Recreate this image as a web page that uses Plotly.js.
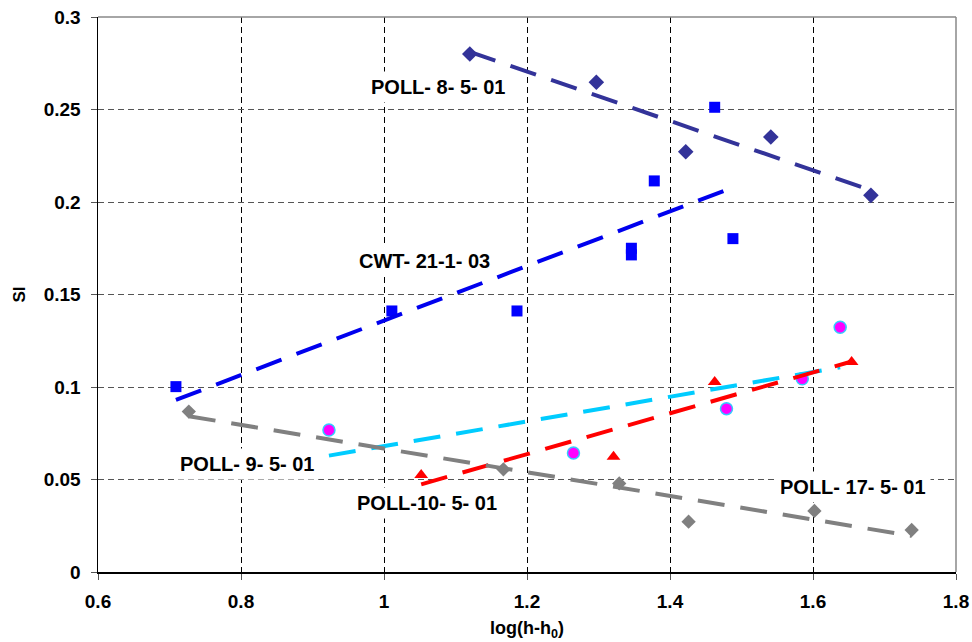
<!DOCTYPE html>
<html>
<head>
<meta charset="utf-8">
<script src="https://cdn.plot.ly/plotly-3.0.1.min.js"></script>
<style>
html,body{margin:0;padding:0;background:#fff;}
#chart{width:972px;height:642px;}
</style>
</head>
<body>
<div id="chart"></div>
<script>
// ---- data ----
const poll8X = [1.120, 1.297, 1.422, 1.541, 1.681];
const poll8Y = [0.2800, 0.2647, 0.2272, 0.2351, 0.2036];
const poll8TrendX = [1.120, 1.681];
const poll8TrendY = [0.2812, 0.2063];

const cwtX = [0.709, 1.011, 1.186, 1.346, 1.346, 1.378, 1.4625, 1.488];
const cwtY = [0.1002, 0.1411, 0.1411, 0.1750, 0.1714, 0.2114, 0.2512, 0.1802];
const cwtTrendX = [0.709, 1.488];
const cwtTrendY = [0.0930, 0.2079];

const poll9X = [0.923, 1.265, 1.479, 1.585, 1.638];
const poll9Y = [0.0768, 0.0643, 0.0883, 0.1045, 0.1323];
const poll9TrendX = [0.923, 1.638];
const poll9TrendY = [0.0629, 0.1106];

const poll10X = [1.052, 1.321, 1.4625, 1.654];
const poll10Y = [0.0524, 0.0623, 0.1027, 0.1135];
const poll10TrendX = [1.052, 1.654];
const poll10TrendY = [0.0474, 0.1138];

const poll17X = [0.727, 1.167, 1.329, 1.426, 1.602, 1.738];
const poll17Y = [0.0867, 0.0555, 0.0479, 0.0272, 0.0330, 0.0227];
const poll17TrendX = [0.727, 1.738];
const poll17TrendY = [0.0842, 0.0195];

const labelText = ['POLL- 8- 5- 01', 'CWT- 21-1- 03', 'POLL- 9- 5- 01', 'POLL-10- 5- 01', 'POLL- 17- 5- 01'];
const labelX = [1.0755, 1.056, 0.808, 1.060, 1.656];
const labelY = [0.2622, 0.1681, 0.0584, 0.0373, 0.0459];

const xTicks = [0.6, 0.8, 1, 1.2, 1.4, 1.6, 1.8];
const xTickText = ['0.6', '0.8', '1', '1.2', '1.4', '1.6', '1.8'];
const yTicks = [0, 0.05, 0.1, 0.15, 0.2, 0.25, 0.3];
const yTickText = ['0', '0.05', '0.1', '0.15', '0.2', '0.25', '0.3'];

const FONT = 'Liberation Sans, Arial, sans-serif';
const TDASH = '27px,16px';

function pts(x, y, marker) {
  return {x: x, y: y, type: 'scatter', mode: 'markers', marker: marker, hoverinfo: 'x+y', cliponaxis: false};
}
function trend(x, y, color) {
  return {x: x, y: y, type: 'scatter', mode: 'lines', line: {color: color, width: 4, dash: TDASH}, hoverinfo: 'skip'};
}

const traces = [
  pts(poll8X, poll8Y, {symbol: 'diamond', size: 12, color: '#333399'}),
  pts(cwtX, cwtY, {symbol: 'square', size: 11, color: '#0000FF'}),
  pts(poll9X, poll9Y, {symbol: 'circle', size: 12, color: '#FF00FF', line: {color: '#33CCFF', width: 1.5}}),
  pts(poll10X, poll10Y, {symbol: 'triangle-up', size: 12, color: '#FF0000'}),
  pts(poll17X, poll17Y, {symbol: 'diamond', size: 11, color: '#808080'}),
  trend(poll8TrendX, poll8TrendY, '#333399'),
  trend(cwtTrendX, cwtTrendY, '#0000EE'),
  trend(poll9TrendX, poll9TrendY, '#00CCFF'),
  trend(poll10TrendX, poll10TrendY, '#FF0000'),
  trend(poll17TrendX, poll17TrendY, '#808080')
];

const annotations = labelText.map((t, i) => ({
  x: labelX[i], y: labelY[i], xref: 'x', yref: 'y', text: t, showarrow: false,
  font: {family: FONT, size: 20, color: '#000', weight: 'bold'},
  bgcolor: '#ffffff', borderpad: 4, xanchor: 'center', yanchor: 'middle'
}));

const layout = {
  width: 972, height: 642,
  margin: {l: 98, r: 16, t: 17, b: 70},
  paper_bgcolor: '#fff', plot_bgcolor: '#fff',
  showlegend: false,
  font: {family: FONT, size: 19, color: '#000'},
  xaxis: {
    range: [0.6, 1.8], tickvals: xTicks, ticktext: xTickText,
    showgrid: true, gridcolor: '#000', gridwidth: 1, griddash: '6px,4px',
    showline: true, linecolor: '#000', linewidth: 1.5,
    ticks: 'outside', ticklen: 6, tickcolor: '#555', ticklabelstandoff: 6,
    zeroline: false,
    tickfont: {family: FONT, size: 19, weight: 'bold'},
    title: {text: 'log(h-h<sub>0</sub>)', font: {family: FONT, size: 18, weight: 'bold'}, standoff: 10}
  },
  yaxis: {
    range: [0, 0.3], tickvals: yTicks, ticktext: yTickText,
    showgrid: true, gridcolor: '#555', gridwidth: 1, griddash: '6px,4px',
    showline: true, linecolor: '#000', linewidth: 1.5,
    ticks: 'outside', ticklen: 6, tickcolor: '#555', ticklabelstandoff: 6,
    zeroline: false,
    tickfont: {family: FONT, size: 19, weight: 'bold'},
    title: {text: 'SI', font: {family: FONT, size: 17, weight: 'bold'}, standoff: 14}
  },
  shapes: [
    {type: 'line', xref: 'paper', yref: 'paper', x0: 0, x1: 1, y0: 1, y1: 1, line: {color: '#888', width: 1.5}},
    {type: 'line', xref: 'paper', yref: 'paper', x0: 1, x1: 1, y0: 0, y1: 1, line: {color: '#888', width: 1.5}}
  ],
  annotations: annotations
};

Plotly.newPlot('chart', traces, layout, {displayModeBar: false, staticPlot: true});
</script>
</body>
</html>
